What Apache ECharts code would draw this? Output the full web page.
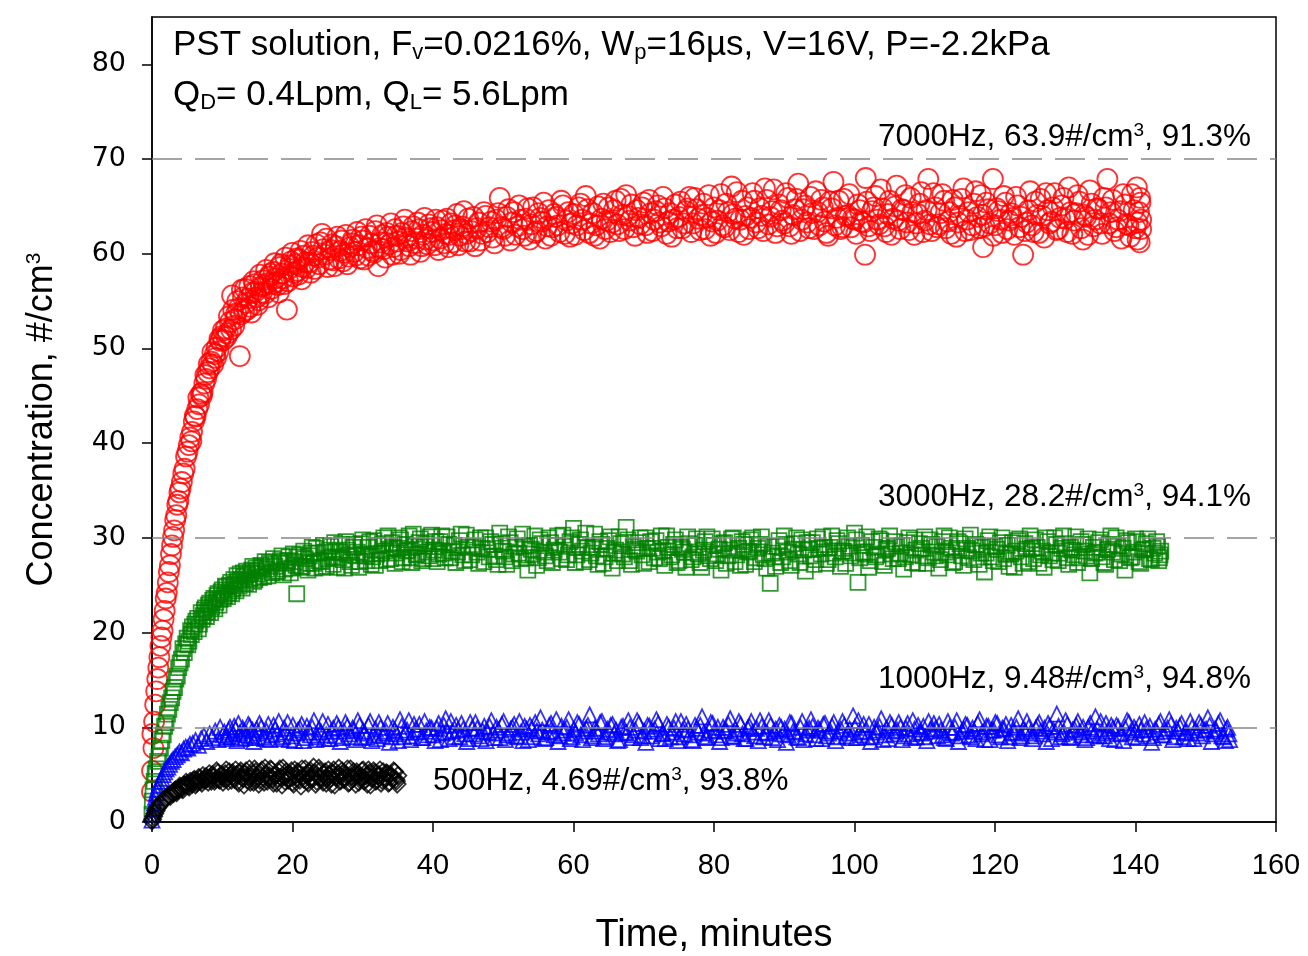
<!DOCTYPE html>
<html>
<head>
<meta charset="utf-8">
<script src="https://cdn.jsdelivr.net/npm/echarts@6/dist/echarts.min.js"></script>
<style>html,body{margin:0;padding:0;background:#fff}#chart{width:1308px;height:956px}</style>
</head>
<body>
<div id="chart"></div>
<script>
// ---- tick values ----
const xTicks = [0, 20, 40, 60, 80, 100, 120, 140, 160];
const yTicks = [0, 10, 20, 30, 40, 50, 60, 70, 80];
const refLines = [70, 30, 10];

// ---- series names / annotations ----
const seriesNames = ['7000Hz', '3000Hz', '1000Hz', '500Hz'];
const annotations = [
  '7000Hz, 63.9#/cm{sup|3}, 91.3%',
  '3000Hz, 28.2#/cm{sup|3}, 94.1%',
  '1000Hz, 9.48#/cm{sup|3}, 94.8%',
  '500Hz, 4.69#/cm{sup|3}, 93.8%'
];

// ---- data [time (min), concentration (#/cm3)] ----
const data7000 = [[0,3.2],[0,5.4],[0.05,9.3],[0.2,7.8],[0.3,10.6],[0.45,12.4],[0.6,13.8],[0.75,15.1],[0.9,16.3],[1.05,17.4],[1.2,18.6],[1.35,19.5],[1.5,20.2],[1.65,21.4],[1.8,22.3],[1.95,23.6],[2.1,24.2],[2.25,25.3],[2.4,26.4],[2.55,27.1],[2.7,28.3],[2.85,29.2],[3.0,30.1],[3.15,30.8],[3.3,31.9],[3.45,32.4],[3.6,33.5],[3.75,33.9],[3.9,34.8],[4.05,35.2],[4.25,35.9],[4.45,36.8],[4.65,37.3],[4.85,38.6],[5.05,39.1],[5.25,39.8],[5.45,40.6],[5.7,41.2],[5.95,42.3],[6.2,42.8],[6.45,43.6],[6.7,44.1],[6.95,45.2],[7.2,45.4],[7.45,46.3],[7.7,46.8],[7.95,47.5],[8.2,47.9],[8.45,48.6],[8.7,48.3],[8.95,49.4],[9.2,50.1],[9.45,49.7],[9.7,50.8],[9.95,51.3],[10.2,50.9],[10.5,52.1],[10.8,51.6],[11.1,52.8],[11.4,55.6],[11.7,52.4],[12.0,53.7],[12.3,54.2],[12.5,49.2],[12.8,56.2],[13.1,53.9],[13.4,54.8],[13.7,55.3],[14.0,54.4],[14.3,55.9],[14.6,56.8],[14.9,55.4],[15.2,55.1],[15.5,56.5],[15.8,57.2],[16.1,55.8],[16.4,56.9],[16.7,57.6],[17.0,56.3],[17.3,58.1],[17.6,57.4],[17.9,56.7],[18.2,58.6],[18.5,57.9],[18.8,56.8],[19.2,54.1],[19.5,58.4],[19.8,59.2],[20.1,57.6],[20.4,58.9],[20.7,58.2],[21.0,59.4],[21.3,57.3],[21.6,59.8],[22.0,58.5],[22.4,59.1],[22.8,60.2],[23.2,58.4],[23.6,59.6],[24.0,61.2],[24.2,62.1],[24.6,59.9],[25.0,58.6],[25.4,60.4],[25.8,59.3],[26.2,60.8],[26.6,59.5],[27.0,61.4],[27.4,60.1],[27.8,58.9],[28.2,60.7],[28.6,61.5],[29.0,59.8],[29.4,60.9],[29.8,61.8],[30.2,59.4],[30.6,60.6],[31.0,61.9],[31.4,60.3],[31.8,62.4],[32.2,58.7],[32.6,61.2],[33.0,60.5],[33.4,62.2],[33.8,61.0],[34.2,59.9],[34.6,62.6],[35.0,61.3],[35.4,60.4],[35.8,62.9],[36.2,61.7],[36.6,60.8],[37.0,62.4],[37.4,61.1],[37.8,63.3],[38.2,60.2],[38.6,62.0],[39.0,61.5],[39.4,63.1],[39.8,62.3],[40.2,60.9],[40.6,62.8],[41.0,61.6],[41.4,63.5],[41.8,62.1],[42.2,60.7],[42.6,63.2],[43.0,62.5],[43.4,64.2],[43.8,61.9],[44.2,62.9],[44.6,61.3],[45.0,63.7],[45.5,62.4],[46.0,60.8],[46.5,63.3],[47.0,62.1],[47.5,64.0],[48.0,62.8],[48.5,61.7],[49.0,63.6],[49.5,65.9],[50.0,62.6],[50.5,63.9],[51.0,61.4],[51.5,64.4],[52.0,62.9],[52.5,63.6],[53.0,61.9],[53.5,64.8],[54.0,63.1],[54.5,62.2],[55.0,64.3],[55.5,63.4],[56.0,61.6],[56.5,64.6],[57.0,62.8],[57.5,63.9],[58.0,62.3],[58.5,65.1],[59.0,63.5],[59.5,61.8],[60.0,64.2],[60.5,63.0],[61.0,65.3],[61.5,62.5],[62.0,64.7],[62.5,63.2],[63.0,61.9],[63.5,65.0],[64.0,63.7],[64.5,62.6],[65.0,64.9],[65.5,63.3],[66.0,65.6],[66.5,62.4],[67.0,64.1],[67.5,66.2],[68.0,63.5],[68.5,62.8],[69.0,64.6],[69.5,63.1],[70.0,65.4],[70.5,62.2],[71.0,64.3],[71.5,63.6],[72.0,65.1],[72.5,62.9],[73.0,64.8],[73.5,63.4],[74.0,61.8],[74.5,65.2],[75.0,63.9],[75.5,62.7],[76.0,64.5],[76.5,66.0],[77.0,63.2],[77.5,64.7],[78.0,62.5],[78.5,65.3],[79.0,63.8],[79.5,61.9],[80.0,64.9],[80.5,63.5],[81.0,66.3],[81.5,62.8],[82.0,64.4],[82.5,67.1],[83.0,63.7],[83.5,62.3],[84.0,65.6],[84.5,64.0],[85.0,62.6],[85.5,66.4],[86.0,63.3],[86.5,64.8],[87.0,62.4],[87.5,65.7],[88.0,63.9],[88.5,66.8],[89.0,62.9],[89.5,64.6],[90.0,63.2],[90.5,65.9],[91.0,62.1],[91.5,64.7],[92.0,67.4],[92.5,63.6],[93.0,65.1],[93.5,62.7],[94.0,64.3],[94.5,66.6],[95.0,63.0],[95.5,64.9],[96.0,62.2],[96.5,65.5],[97.0,67.6],[97.5,63.8],[98.0,62.6],[98.5,65.8],[99.0,64.1],[99.5,62.8],[100.0,63.6],[100.5,65.2],[101.0,63.4],[101.5,59.9],[101.6,68.0],[102.0,62.9],[102.5,64.5],[103.0,66.1],[103.5,63.1],[104.0,64.8],[104.5,62.3],[105.0,65.6],[105.5,63.7],[106.0,67.2],[106.5,62.6],[107.0,64.6],[107.5,63.3],[108.0,65.9],[108.5,62.0],[109.0,64.2],[109.5,66.5],[110.0,63.5],[110.5,67.9],[111.0,62.4],[111.5,64.9],[112.0,63.1],[112.5,66.3],[113.0,62.7],[113.5,64.4],[114.0,65.7],[114.5,61.8],[115.0,64.0],[115.5,66.9],[116.0,63.6],[116.5,62.5],[117.0,65.3],[117.5,63.9],[118.0,66.2],[118.3,60.7],[118.5,62.9],[119.0,64.7],[119.7,67.9],[120.0,63.0],[120.5,64.5],[121.0,62.2],[121.5,65.4],[122.0,63.5],[122.5,63.8],[123.0,66.0],[123.5,62.8],[124.0,59.9],[124.5,63.3],[125.0,66.6],[125.5,62.3],[126.0,64.1],[126.5,65.8],[127.0,61.7],[127.5,64.6],[128.0,63.4],[128.5,66.4],[129.0,62.6],[129.5,65.1],[130.0,63.7],[130.5,67.0],[131.0,62.1],[131.5,64.3],[132.0,65.5],[132.5,61.5],[133.0,63.9],[133.5,66.7],[134.0,62.9],[134.5,64.8],[135.0,63.2],[135.5,65.9],[136.0,67.9],[136.5,64.4],[137.0,62.4],[137.5,63.6],[138.0,61.6],[138.5,65.2],[139.0,63.0],[139.5,66.3],[140.0,62.7],[140.2,67.0],[140.3,61.5],[140.5,64.4],[140.6,61.2],[140.7,65.4],[140.8,63.6],[140.8,62.6]];

const more7000 = [[5.6,40.2],[6.1,42.9],[6.6,44.8],[7.1,45.0],[7.6,47.2],[8.1,48.4],[8.6,49.6],[9.1,49.0],[9.6,51.0],[10.1,51.9],[10.6,51.2],[10.95,53.4],[11.25,52.0],[11.55,54.1],[11.85,53.1],[12.15,55.0],[12.65,53.6],[12.95,55.4],[13.25,56.3],[13.55,54.1],[13.85,56.6],[14.15,53.8],[14.45,57.1],[14.75,56.0],[15.05,54.6],[15.35,57.8],[15.65,55.9],[15.95,56.7],[16.25,58.3],[16.55,55.4],[16.85,57.9],[17.15,56.8],[17.45,59.0],[17.75,57.0],[18.05,55.9],[18.35,58.9],[18.65,57.4],[19.0,59.6],[19.35,57.1],[19.65,58.8],[19.95,60.1],[20.25,58.0],[20.55,59.5],[20.85,57.8],[21.15,60.3],[21.45,58.6],[21.8,59.1],[22.2,60.9],[22.6,58.0],[23.0,59.8],[23.4,61.0],[23.8,58.9],[24.4,60.5],[24.8,61.6],[25.2,59.4],[25.6,61.0],[26.0,58.7],[26.4,61.8],[26.8,60.3],[27.2,59.2],[27.6,62.0],[28.0,59.7],[28.4,61.1],[28.8,60.2],[29.2,62.3],[29.6,59.5],[30.0,61.4],[30.4,62.6],[30.8,59.8],[31.2,61.1],[31.6,60.1],[32.0,63.0],[32.4,60.6],[32.8,62.0],[33.2,59.6],[33.6,61.8],[34.0,63.2],[34.4,60.7],[34.8,61.9],[35.2,60.0],[35.6,62.2],[36.0,63.6],[36.4,61.3],[36.8,59.9],[37.2,62.9],[37.6,61.6],[38.0,62.6],[38.4,60.8],[38.8,63.8],[39.2,61.0],[39.6,62.7],[40.0,61.4],[40.4,63.6],[40.8,60.4],[41.2,62.5],[41.6,61.1],[42.0,63.7],[42.4,62.0],[42.8,61.2],[43.2,63.0],[43.6,60.9],[44.0,62.6],[44.4,64.5],[44.8,62.1],[45.25,61.3],[45.75,63.9],[46.25,62.7],[46.75,61.4],[47.25,64.4],[47.75,62.3],[48.25,63.4],[48.75,61.1],[49.25,64.3],[49.75,62.8],[50.25,61.9],[50.75,64.7],[51.25,63.3],[51.75,62.0],[52.25,65.1],[52.75,62.6],[53.25,63.7],[53.75,61.5],[54.25,64.9],[54.75,62.4],[55.25,63.8],[55.75,65.4],[56.25,62.9],[56.75,61.9],[57.25,64.2],[57.75,63.0],[58.25,65.6],[58.75,62.1],[59.25,64.4],[59.75,63.2],[60.25,62.0],[60.75,64.9],[61.25,63.6],[61.75,66.1],[62.25,62.2],[62.75,64.3],[63.25,63.0],[63.75,61.6],[64.25,65.3],[64.75,63.5],[65.25,62.3],[65.75,64.6],[66.25,63.1],[66.75,65.8],[67.25,62.6],[67.75,64.0],[68.25,65.2],[68.75,61.9],[69.25,63.8],[69.75,64.9],[70.25,63.0],[70.75,65.7],[71.25,62.4],[71.75,64.5],[72.25,63.3],[72.75,66.0],[73.25,62.1],[73.75,64.3],[74.25,63.6],[74.75,62.7],[75.25,65.5],[75.75,63.2],[76.25,64.8],[76.75,62.3],[77.25,65.9],[77.75,63.7],[78.25,64.1],[78.75,62.6],[79.25,66.2],[79.75,63.4],[80.25,62.2],[80.75,64.6],[81.25,63.0],[81.75,65.3],[82.25,62.5],[82.75,64.2],[83.25,66.5],[83.75,63.6],[84.25,62.0],[84.75,64.9],[85.25,63.8],[85.75,65.6],[86.25,62.7],[86.75,64.0],[87.25,66.9],[87.75,63.1],[88.25,64.5],[88.75,62.2],[89.25,65.2],[89.75,63.5],[90.25,66.4],[90.75,62.9],[91.25,64.1],[91.75,65.8],[92.25,62.4],[92.75,64.7],[93.25,63.3],[93.75,66.0],[94.25,62.6],[94.75,64.4],[95.25,65.7],[95.75,63.4],[96.25,61.9],[96.75,64.8],[97.25,63.0],[97.75,65.6],[98.25,62.8],[98.75,64.0],[99.25,66.3],[99.75,63.7],[100.25,62.1],[100.75,64.6],[101.25,63.3],[101.75,65.5],[102.25,62.4],[102.75,64.9],[103.25,63.6],[103.75,66.8],[104.25,62.9],[104.75,64.2],[105.25,62.0],[105.75,65.0],[106.25,63.5],[106.75,64.7],[107.25,66.2],[107.75,62.5],[108.25,64.4],[108.75,63.2],[109.25,65.3],[109.75,62.3],[110.25,64.6],[110.75,63.1],[111.25,66.4],[111.75,62.8],[112.25,64.3],[112.75,65.6],[113.25,63.4],[113.75,62.1],[114.25,64.9],[114.75,63.3],[115.25,65.8],[115.75,62.4],[116.25,64.4],[116.75,63.0],[117.25,66.6],[117.75,62.7],[118.25,64.1],[118.75,65.4],[119.25,63.2],[119.75,61.9],[120.25,64.8],[120.75,63.6],[121.25,66.1],[121.75,62.6],[122.25,64.3],[122.75,62.0],[123.25,65.1],[123.75,63.9],[124.25,62.4],[124.75,64.6],[125.25,63.0],[125.75,65.5],[126.25,62.2],[126.75,64.0],[127.25,66.4],[127.75,63.2],[128.25,64.9],[128.75,62.5],[129.25,63.8],[129.75,65.9],[130.25,62.3],[130.75,64.4],[131.25,63.5],[131.75,66.2],[132.25,62.7],[132.75,64.1],[133.25,62.0],[133.75,65.3],[134.25,63.6],[134.75,64.7],[135.25,62.1],[135.75,64.9],[136.25,63.2],[136.75,65.7],[137.25,62.8],[137.75,64.5],[138.25,66.3],[138.75,63.1],[139.25,61.8],[139.75,64.6],[140.25,63.3],[140.65,65.9]];

const data3000 = [[0,0.8],[0.05,2.2],[0.15,3.4],[0.3,4.3],[0.45,5.1],[0.6,5.6],[0.8,6.4],[1.0,6.9],[1.2,7.8],[1.4,8.6],[1.6,9.2],[1.8,10.1],[2.0,10.5],[2.2,11.4],[2.4,11.9],[2.6,12.6],[2.8,13.1],[3.0,13.8],[3.2,14.2],[3.4,15.1],[3.6,15.4],[3.8,16.3],[4.0,16.8],[4.2,17.2],[4.4,18.3],[4.6,17.9],[4.8,18.8],[5.0,19.4],[5.25,19.1],[5.5,20.2],[5.75,20.6],[6.0,20.1],[6.25,21.2],[6.5,21.5],[6.75,20.9],[7.0,22.1],[7.3,21.8],[7.6,22.6],[7.9,22.2],[8.2,23.1],[8.5,22.7],[8.8,23.6],[9.1,23.2],[9.4,24.1],[9.7,23.5],[10.0,24.5],[10.3,23.9],[10.6,24.8],[10.9,24.2],[11.2,25.3],[11.5,24.6],[11.8,25.1],[12.1,26.0],[12.4,24.9],[12.7,25.6],[13.0,26.3],[13.3,25.2],[13.6,26.1],[13.9,25.7],[14.2,26.6],[14.5,25.4],[14.8,26.8],[15.1,26.2],[15.5,27.1],[15.9,25.9],[16.3,26.7],[16.7,27.4],[17.1,26.3],[17.5,27.0],[17.9,26.5],[18.3,27.6],[18.7,26.1],[19.1,27.3],[19.5,28.0],[19.9,26.8],[20.3,27.5],[20.6,24.1],[21.0,28.2],[21.4,27.0],[21.8,27.8],[22.2,26.6],[22.6,28.4],[23.0,27.3],[23.4,28.9],[23.8,27.6],[24.2,26.9],[24.6,28.5],[25.0,27.8],[25.4,29.1],[25.8,27.2],[26.2,28.6],[26.6,27.9],[27.0,29.3],[27.4,26.8],[27.8,28.7],[28.2,27.5],[28.6,29.0],[29.0,28.1],[29.4,26.9],[29.8,29.4],[30.2,28.3],[30.6,27.6],[31.0,29.6],[31.4,28.0],[31.8,27.1],[32.2,29.2],[32.6,28.4],[33.0,30.0],[33.4,27.7],[33.8,28.8],[34.2,29.5],[34.6,27.3],[35.0,28.9],[35.4,29.8],[35.8,27.9],[36.2,28.6],[36.6,30.2],[37.0,27.4],[37.4,29.1],[37.8,28.3],[38.2,29.9],[38.6,27.8],[39.0,29.4],[39.4,28.1],[39.8,30.3],[40.2,28.7],[40.6,27.5],[41.0,29.6],[41.5,28.4],[42.0,30.1],[42.5,27.9],[43.0,29.2],[43.5,28.5],[44.0,30.4],[44.5,27.6],[45.0,29.0],[45.5,28.2],[46.0,29.8],[46.5,27.3],[47.0,28.9],[47.5,30.0],[48.0,28.0],[48.5,29.3],[49.0,27.7],[49.5,30.5],[50.0,28.6],[50.5,27.2],[51.0,29.5],[51.5,28.3],[52.0,29.9],[52.5,27.8],[53.0,29.1],[53.5,26.6],[54.0,28.8],[54.5,30.2],[55.0,27.9],[55.5,29.4],[56.0,28.1],[56.5,30.0],[57.0,27.4],[57.5,29.2],[58.0,28.5],[58.5,30.3],[59.0,27.7],[59.5,29.6],[60.0,31.0],[60.5,28.2],[61.0,29.8],[61.5,27.5],[62.0,29.0],[62.5,28.4],[63.0,30.4],[63.5,27.2],[64.0,29.3],[64.5,28.0],[65.0,29.7],[65.5,26.8],[66.0,28.7],[66.5,30.1],[67.0,28.3],[67.5,31.1],[68.0,27.6],[68.5,29.1],[69.0,28.6],[69.5,30.0],[70.0,27.3],[70.5,28.9],[71.0,29.6],[71.5,27.9],[72.0,28.5],[72.5,30.2],[73.0,27.1],[73.5,29.0],[74.0,28.2],[74.5,29.8],[75.0,27.6],[75.5,28.8],[76.0,26.9],[76.5,29.4],[77.0,28.0],[77.5,29.9],[78.0,27.4],[78.5,28.7],[79.0,30.1],[79.5,27.8],[80.0,29.2],[80.5,28.3],[81.0,26.6],[81.5,29.5],[82.0,28.1],[82.5,29.9],[83.0,27.5],[83.5,28.9],[84.0,29.6],[84.5,27.2],[85.0,28.6],[85.5,30.0],[86.0,27.9],[86.5,29.3],[87.0,28.2],[87.5,26.8],[88.0,25.2],[88.5,28.0],[89.0,29.1],[89.5,27.4],[90.0,30.2],[90.5,28.5],[91.0,27.1],[91.5,29.4],[92.0,28.3],[92.5,29.8],[93.0,26.5],[93.5,28.8],[94.0,29.5],[94.5,27.7],[95.0,28.9],[95.5,30.1],[96.0,27.3],[96.5,29.0],[97.0,28.4],[97.5,29.7],[98.0,27.0],[98.5,28.6],[99.0,30.0],[99.5,28.1],[100.0,30.5],[100.5,25.3],[101.0,29.2],[101.5,28.3],[102.0,26.9],[102.5,29.6],[103.0,28.0],[103.5,29.9],[104.0,27.5],[104.5,28.8],[105.0,30.2],[105.5,27.8],[106.0,29.1],[106.5,28.4],[107.0,26.7],[107.5,29.5],[108.0,28.2],[108.5,29.8],[109.0,27.3],[109.5,28.9],[110.0,30.1],[110.5,27.9],[111.0,29.3],[111.5,28.1],[112.0,26.8],[112.5,29.6],[113.0,28.5],[113.5,30.0],[114.0,27.4],[114.5,28.7],[115.0,29.4],[115.5,27.1],[116.0,28.9],[116.5,30.3],[117.0,27.7],[117.5,29.2],[118.0,28.4],[118.5,26.4],[119.0,29.7],[119.5,28.0],[120.0,29.1],[120.5,27.5],[121.0,30.0],[121.5,28.3],[122.0,27.0],[122.5,29.5],[123.0,28.6],[123.5,29.9],[124.0,27.3],[124.5,28.8],[125.0,30.2],[125.5,27.8],[126.0,29.0],[126.5,28.2],[127.0,26.9],[127.5,29.6],[128.0,28.4],[128.5,30.0],[129.0,27.6],[129.5,28.9],[130.0,29.4],[130.5,27.2],[131.0,28.7],[131.5,30.1],[132.0,27.9],[132.5,29.3],[133.0,28.1],[133.5,26.3],[134.0,29.0],[134.5,28.5],[135.0,29.8],[135.5,27.4],[136.0,28.8],[136.5,30.2],[137.0,27.7],[137.5,29.1],[138.0,28.3],[138.5,26.6],[139.0,29.5],[139.5,28.0],[140.0,29.9],[140.5,27.5],[141.0,28.7],[141.5,29.4],[142.0,27.8],[142.5,28.9],[143.0,29.6],[143.3,27.6],[143.5,28.2],[143.6,28.6]];

const more3000 = [[5.1,18.7],[5.6,19.8],[6.1,20.9],[6.6,20.4],[7.15,21.4],[7.45,22.4],[7.75,21.7],[8.05,22.9],[8.35,22.1],[8.65,23.4],[8.95,22.5],[9.25,23.9],[9.55,22.9],[9.85,24.3],[10.15,23.6],[10.45,24.9],[10.75,23.8],[11.05,25.0],[11.35,24.1],[11.65,25.6],[11.95,24.4],[12.25,25.4],[12.55,26.2],[12.85,24.7],[13.15,25.9],[13.45,26.5],[13.75,25.1],[14.05,26.3],[14.35,27.0],[14.65,25.6],[14.95,26.5],[15.3,25.8],[15.7,26.9],[16.1,27.5],[16.5,26.0],[16.9,27.2],[17.3,27.8],[17.7,26.4],[18.1,27.4],[18.5,28.1],[18.9,26.7],[19.3,27.6],[19.7,26.3],[20.1,28.3],[20.5,27.1],[20.85,28.0],[21.2,26.9],[21.6,28.6],[22.0,27.3],[22.4,28.1],[22.8,29.0],[23.2,26.8],[23.6,28.4],[24.0,27.5],[24.4,29.2],[24.8,27.0],[25.2,28.7],[25.6,28.0],[26.0,29.5],[26.4,26.9],[26.8,28.5],[27.2,27.7],[27.6,29.6],[28.0,28.2],[28.4,27.1],[28.8,29.3],[29.2,28.5],[29.6,27.5],[30.0,29.8],[30.4,28.1],[30.8,29.0],[31.2,27.2],[31.6,29.7],[32.0,28.3],[32.4,27.6],[32.8,29.4],[33.2,28.6],[33.6,30.2],[34.0,27.8],[34.4,29.0],[34.8,28.4],[35.2,30.0],[35.6,27.5],[36.0,29.3],[36.4,28.7],[36.8,27.9],[37.2,30.4],[37.6,28.2],[38.0,29.5],[38.4,27.6],[38.8,29.1],[39.2,28.5],[39.6,30.1],[40.0,27.8],[40.4,29.6],[40.8,28.3],[41.25,30.2],[41.75,27.9],[42.25,29.3],[42.75,28.6],[43.25,27.4],[43.75,29.7],[44.25,28.2],[44.75,30.3],[45.25,27.7],[45.75,29.1],[46.25,28.5],[46.75,30.0],[47.25,27.5],[47.75,28.8],[48.25,29.6],[48.75,28.1],[49.25,27.2],[49.75,29.4],[50.25,28.0],[50.75,30.1],[51.25,27.6],[51.75,29.0],[52.25,28.4],[52.75,30.4],[53.25,27.9],[53.75,29.2],[54.25,28.3],[54.75,27.1],[55.25,29.8],[55.75,28.5],[56.25,27.6],[56.75,29.5],[57.25,28.7],[57.75,30.2],[58.25,27.8],[58.75,29.1],[59.25,28.2],[59.75,30.0],[60.25,27.4],[60.75,29.3],[61.25,28.6],[61.75,30.5],[62.25,27.7],[62.75,29.0],[63.25,28.1],[63.75,29.6],[64.25,27.3],[64.75,28.9],[65.25,30.1],[65.75,28.4],[66.25,27.6],[66.75,29.4],[67.25,28.0],[67.75,29.8],[68.25,27.2],[68.75,28.8],[69.25,29.5],[69.75,28.2],[70.25,30.0],[70.75,27.5],[71.25,28.9],[71.75,29.7],[72.25,27.8],[72.75,28.6],[73.25,30.2],[73.75,28.0],[74.25,29.3],[74.75,27.4],[75.25,29.0],[75.75,28.5],[76.25,30.1],[76.75,27.7],[77.25,29.2],[77.75,28.3],[78.25,26.9],[78.75,29.6],[79.25,28.1],[79.75,29.9],[80.25,27.6],[80.75,28.8],[81.25,29.4],[81.75,27.3],[82.25,28.7],[82.75,30.0],[83.25,28.2],[83.75,27.1],[84.25,29.3],[84.75,28.5],[85.25,29.8],[85.75,27.5],[86.25,28.9],[86.75,30.1],[87.25,27.8],[87.75,29.1],[88.25,28.4],[88.75,27.0],[89.25,29.7],[89.75,28.0],[90.25,29.3],[90.75,27.6],[91.25,28.8],[91.75,30.0],[92.25,27.4],[92.75,28.7],[93.25,29.5],[93.75,28.1],[94.25,27.2],[94.75,29.9],[95.25,28.3],[95.75,29.0],[96.25,27.7],[96.75,30.2],[97.25,28.0],[97.75,29.4],[98.25,28.6],[98.75,27.3],[99.25,29.1],[99.75,28.4],[100.25,29.8],[100.75,27.9],[101.25,28.5],[101.75,30.1],[102.25,27.6],[102.75,29.0],[103.25,28.2],[103.75,29.7],[104.25,27.1],[104.75,28.9],[105.25,28.3],[105.75,29.6],[106.25,27.8],[106.75,29.2],[107.25,28.0],[107.75,30.0],[108.25,27.4],[108.75,28.7],[109.25,29.4],[109.75,28.1],[110.25,27.3],[110.75,29.8],[111.25,28.5],[111.75,29.1],[112.25,27.7],[112.75,30.2],[113.25,28.2],[113.75,28.9],[114.25,27.5],[114.75,29.6],[115.25,28.1],[115.75,29.9],[116.25,27.9],[116.75,28.6],[117.25,29.3],[117.75,27.2],[118.25,29.0],[118.75,28.4],[119.25,30.1],[119.75,27.6],[120.25,28.8],[120.75,29.5],[121.25,27.8],[121.75,29.2],[122.25,28.3],[122.75,26.9],[123.25,29.7],[123.75,28.0],[124.25,29.4],[124.75,27.5],[125.25,28.9],[125.75,29.8],[126.25,27.3],[126.75,28.6],[127.25,30.0],[127.75,28.1],[128.25,27.7],[128.75,29.3],[129.25,28.4],[129.75,30.2],[130.25,27.9],[130.75,29.0],[131.25,28.2],[131.75,27.4],[132.25,29.6],[132.75,28.6],[133.25,29.9],[133.75,27.8],[134.25,28.4],[134.75,29.5],[135.25,28.0],[135.75,27.2],[136.25,29.3],[136.75,28.5],[137.25,30.0],[137.75,27.6],[138.25,28.9],[138.75,29.7],[139.25,27.9],[139.75,28.5],[140.25,29.6],[140.75,27.3],[141.25,28.8],[141.75,29.9],[142.25,27.7],[142.75,28.4],[143.15,29.1],[143.4,27.9]];

const data1000 = [[0,0.2],[0.1,0.8],[0.2,1.4],[0.35,2.0],[0.5,2.6],[0.65,3.1],[0.8,3.5],[1.0,3.9],[1.2,4.3],[1.4,4.6],[1.6,5.0],[1.8,5.3],[2.0,5.6],[2.25,5.8],[2.5,6.1],[2.75,6.4],[3.0,6.6],[3.3,6.9],[3.6,7.1],[3.9,7.4],[4.2,7.3],[4.5,7.7],[4.8,7.9],[5.1,7.8],[5.4,8.2],[5.8,8.3],[6.2,8.6],[6.6,8.1],[7.0,8.8],[7.4,9.1],[7.8,8.5],[8.2,9.3],[8.6,8.9],[9.0,9.6],[9.4,8.7],[9.7,10.0],[10.1,9.2],[10.5,8.8],[10.9,9.7],[11.3,9.0],[11.7,10.1],[12.1,8.6],[12.5,9.4],[12.9,9.9],[13.3,8.9],[13.7,10.3],[14.1,9.1],[14.5,8.5],[14.9,9.8],[15.3,10.4],[15.8,9.0],[16.3,9.6],[16.8,8.7],[17.3,10.2],[17.8,9.3],[18.3,8.8],[18.8,9.9],[19.3,10.5],[19.8,9.1],[20.3,8.6],[20.8,9.7],[21.3,10.3],[21.8,8.9],[22.3,9.5],[22.8,10.0],[23.3,8.7],[23.8,9.8],[24.3,10.6],[24.8,9.2],[25.3,8.8],[25.8,9.9],[26.3,10.4],[26.8,8.5],[27.3,9.6],[27.8,10.1],[28.3,9.0],[28.8,9.7],[29.3,10.7],[29.8,8.9],[30.3,9.4],[30.8,10.2],[31.3,8.6],[31.8,9.8],[32.3,10.5],[32.8,9.1],[33.3,9.6],[33.8,8.4],[34.3,10.0],[34.8,9.3],[35.3,10.8],[35.8,9.0],[36.3,9.7],[36.8,8.7],[37.3,10.3],[37.8,9.5],[38.3,8.9],[38.8,10.6],[39.3,9.2],[39.8,9.9],[40.3,8.6],[40.8,10.4],[41.3,9.4],[41.8,10.9],[42.3,8.8],[42.8,9.6],[43.3,10.2],[43.8,9.0],[44.3,9.8],[44.8,8.5],[45.3,10.5],[45.8,9.3],[46.3,9.9],[46.8,8.8],[47.3,10.1],[47.8,9.5],[48.3,10.7],[48.8,8.9],[49.3,9.7],[49.8,10.3],[50.3,8.7],[50.8,9.4],[51.3,10.0],[51.8,9.1],[52.3,10.6],[52.8,8.6],[53.3,9.8],[53.8,10.2],[54.3,9.0],[54.8,9.6],[55.3,11.0],[55.8,8.8],[56.3,9.5],[56.8,10.4],[57.3,9.2],[57.8,8.5],[58.3,10.1],[58.8,9.7],[59.3,10.8],[59.8,9.0],[60.3,9.4],[60.8,10.3],[61.3,8.7],[61.8,9.9],[62.3,11.3],[62.8,9.1],[63.3,9.6],[63.8,10.5],[64.3,8.8],[64.8,9.8],[65.3,10.2],[65.8,9.3],[66.3,8.6],[66.8,10.0],[67.3,9.5],[67.8,10.7],[68.3,8.9],[68.8,9.7],[69.3,10.4],[69.8,9.1],[70.3,8.4],[70.8,10.1],[71.3,9.6],[71.8,10.8],[72.3,8.8],[72.8,9.4],[73.3,10.3],[73.8,9.0],[74.3,9.9],[74.8,8.6],[75.3,10.6],[75.8,9.3],[76.3,9.8],[76.8,8.7],[77.3,10.2],[77.8,9.5],[78.3,11.1],[78.8,8.9],[79.3,9.7],[79.8,10.4],[80.3,9.2],[80.8,8.5],[81.3,10.0],[81.8,9.6],[82.3,10.9],[82.8,9.0],[83.3,9.4],[83.8,10.3],[84.3,8.8],[84.8,9.9],[85.3,10.6],[85.8,9.1],[86.3,8.6],[86.8,10.1],[87.3,9.5],[87.8,10.7],[88.3,8.9],[88.8,9.8],[89.3,10.2],[89.8,9.3],[90.3,8.4],[90.8,10.5],[91.3,9.6],[91.8,9.0],[92.3,10.0],[92.8,8.7],[93.3,9.7],[93.8,10.8],[94.3,9.2],[94.8,9.9],[95.3,8.8],[95.8,10.4],[96.3,9.4],[96.8,10.1],[97.3,8.6],[97.8,9.6],[98.3,10.6],[98.8,9.1],[99.3,9.8],[99.8,11.2],[100.3,8.9],[100.8,9.5],[101.3,10.3],[101.8,9.0],[102.3,8.5],[102.8,10.0],[103.3,9.7],[103.8,10.9],[104.3,9.2],[104.8,8.8],[105.3,10.2],[105.8,9.6],[106.3,10.5],[106.8,8.7],[107.3,9.9],[107.8,9.3],[108.3,10.7],[108.8,9.0],[109.3,9.5],[109.8,10.1],[110.3,8.6],[110.8,9.8],[111.3,10.4],[111.8,9.1],[112.3,9.7],[112.8,8.9],[113.3,10.6],[113.8,9.4],[114.3,10.0],[114.8,8.5],[115.3,9.6],[115.8,10.3],[116.3,9.2],[116.8,9.9],[117.3,8.8],[117.8,10.8],[118.3,9.5],[118.8,10.1],[119.3,8.7],[119.8,9.7],[120.3,10.4],[120.8,9.0],[121.3,9.8],[121.8,8.6],[122.3,10.2],[122.8,9.4],[123.3,10.9],[123.8,9.1],[124.3,9.6],[124.8,10.0],[125.3,8.8],[125.8,9.9],[126.3,10.5],[126.8,9.3],[127.3,8.5],[127.8,10.1],[128.3,9.7],[128.8,11.4],[129.3,9.0],[129.8,9.5],[130.3,10.3],[130.8,8.9],[131.3,9.8],[131.8,10.6],[132.3,9.2],[132.8,8.7],[133.3,10.0],[133.8,9.6],[134.3,11.1],[134.8,9.1],[135.3,9.4],[135.8,10.4],[136.3,8.8],[136.8,9.9],[137.3,10.2],[137.8,9.3],[138.3,8.6],[138.8,10.7],[139.3,9.5],[139.8,10.0],[140.3,8.9],[140.8,9.7],[141.3,10.5],[141.8,9.1],[142.3,8.4],[142.8,9.8],[143.3,10.3],[143.8,9.2],[144.3,9.6],[144.8,10.8],[145.3,8.7],[145.8,9.9],[146.3,10.1],[146.8,9.0],[147.3,9.5],[147.8,10.6],[148.3,8.8],[148.8,9.4],[149.3,10.2],[149.8,9.7],[150.3,11.0],[150.8,8.5],[151.3,9.8],[151.8,10.4],[152.3,9.1],[152.8,8.6],[153.1,10.0],[153.3,9.3],[153.4,8.7]];

const more1000 = [[10.3,9.5],[10.7,9.0],[11.1,10.0],[11.5,9.3],[11.9,9.8],[12.3,10.4],[12.7,8.8],[13.1,9.6],[13.5,9.2],[13.9,10.1],[14.3,9.7],[14.7,8.9],[15.05,9.4],[15.55,10.0],[16.05,8.8],[16.55,10.3],[17.05,9.2],[17.55,9.8],[18.05,10.6],[18.55,9.0],[19.05,9.5],[19.55,8.7],[20.05,10.2],[20.55,9.4],[21.05,9.9],[21.55,8.6],[22.05,10.1],[22.55,9.2],[23.05,10.7],[23.55,9.0],[24.05,9.5],[24.55,8.8],[25.05,10.3],[25.55,9.6],[26.05,9.1],[26.55,10.0],[27.05,8.9],[27.55,10.5],[28.05,9.3],[28.55,9.9],[29.05,8.7],[29.55,10.2],[30.05,9.6],[30.55,9.0],[31.05,10.6],[31.55,9.2],[32.05,8.8],[32.55,10.0],[33.05,9.4],[33.55,10.4],[34.05,9.0],[34.55,9.7],[35.05,8.6],[35.55,10.1],[36.05,9.5],[36.55,10.7],[37.05,9.1],[37.55,9.8],[38.05,10.3],[38.55,8.9],[39.05,9.6],[39.55,10.0],[40.05,9.2],[40.55,9.9],[41.05,8.7],[41.55,10.2],[42.05,9.5],[42.55,10.6],[43.05,9.0],[43.55,9.7],[44.05,10.4],[44.55,9.3],[45.05,8.8],[45.55,9.9],[46.05,10.5],[46.55,9.1],[47.05,9.6],[47.55,8.6],[48.05,10.1],[48.55,9.4],[49.05,10.0],[49.55,8.9],[50.05,10.6],[50.55,9.2],[51.05,9.8],[51.55,10.3],[52.05,9.0],[52.55,9.5],[53.05,10.1],[53.55,8.7],[54.05,9.9],[54.55,10.5],[55.05,9.3],[55.55,9.7],[56.05,8.9],[56.55,10.2],[57.05,9.6],[57.55,10.8],[58.05,9.1],[58.55,9.4],[59.05,10.0],[59.55,8.8],[60.05,9.8],[60.55,10.5],[61.05,9.2],[61.55,9.6],[62.05,10.2],[62.55,8.9],[63.05,9.9],[63.55,9.3],[64.05,10.6],[64.55,9.0],[65.05,9.5],[65.55,10.3],[66.05,9.7],[66.55,8.7],[67.05,10.1],[67.55,9.4],[68.05,10.0],[68.55,9.2],[69.05,10.7],[69.55,8.9],[70.05,9.6],[70.55,10.2],[71.05,9.1],[71.55,9.8],[72.05,10.4],[72.55,9.3],[73.05,8.8],[73.55,10.0],[74.05,9.5],[74.55,10.6],[75.05,9.0],[75.55,9.7],[76.05,10.3],[76.55,9.2],[77.05,8.6],[77.55,9.9],[78.05,10.2],[78.55,9.4],[79.05,9.0],[79.55,10.5],[80.05,9.6],[80.55,10.0],[81.05,8.9],[81.55,9.7],[82.05,10.3],[82.55,9.1],[83.05,9.8],[83.55,10.6],[84.05,9.3],[84.55,8.8],[85.05,10.1],[85.55,9.5],[86.05,9.9],[86.55,10.7],[87.05,9.0],[87.55,9.4],[88.05,10.2],[88.55,9.6],[89.05,8.7],[89.55,10.0],[90.05,9.8],[90.55,9.2],[91.05,10.4],[91.55,9.5],[92.05,8.9],[92.55,10.6],[93.05,9.3],[93.55,9.9],[94.05,10.1],[94.55,8.8],[95.05,9.7],[95.55,10.3],[96.05,9.1],[96.55,9.6],[97.05,10.5],[97.55,9.0],[98.05,9.8],[98.55,10.2],[99.05,9.4],[99.55,8.9],[100.05,10.0],[100.55,10.7],[101.05,9.2],[101.55,9.6],[102.05,10.3],[102.55,9.0],[103.05,9.5],[103.55,10.1],[104.05,8.7],[104.55,9.9],[105.05,10.5],[105.55,9.3],[106.05,9.7],[106.55,10.0],[107.05,9.1],[107.55,10.4],[108.05,8.9],[108.55,9.8],[109.05,10.2],[109.55,9.4],[110.05,9.0],[110.55,10.6],[111.05,9.6],[111.55,9.9],[112.05,10.3],[112.55,9.2],[113.05,8.8],[113.55,10.0],[114.05,9.5],[114.55,10.7],[115.05,9.1],[115.55,9.8],[116.05,10.2],[116.55,9.0],[117.05,9.6],[117.55,10.4],[118.05,9.3],[118.55,8.7],[119.05,10.1],[119.55,9.7],[120.05,10.5],[120.55,9.2],[121.05,9.9],[121.55,10.3],[122.05,9.0],[122.55,9.5],[123.05,10.0],[123.55,8.9],[124.05,9.8],[124.55,10.6],[125.05,9.4],[125.55,9.1],[126.05,10.2],[126.55,9.6],[127.05,9.9],[127.55,10.4],[128.05,8.8],[128.55,9.5],[129.05,10.1],[129.55,9.3],[130.05,10.7],[130.55,9.0],[131.05,9.7],[131.55,10.2],[132.05,9.5],[132.55,10.0],[133.05,8.9],[133.55,10.4],[134.05,9.2],[134.55,9.8],[135.05,10.6],[135.55,9.1],[136.05,9.6],[136.55,10.2],[137.05,8.7],[137.55,10.0],[138.05,9.4],[138.55,9.9],[139.05,10.5],[139.55,9.0],[140.05,9.7],[140.55,10.3],[141.05,9.3],[141.55,9.8],[142.05,10.1],[142.55,8.9],[143.05,9.5],[143.55,10.6],[144.05,9.2],[144.55,9.9],[145.05,10.3],[145.55,9.0],[146.05,9.6],[146.55,10.4],[147.05,9.4],[147.55,8.8],[148.05,10.0],[148.55,9.7],[149.05,10.5],[149.55,9.1],[150.05,9.8],[150.55,10.2],[151.05,9.3],[151.55,9.6],[152.05,10.7],[152.55,9.0],[152.95,9.8]];

const data500 = [[0,0.1],[0.1,0.3],[0.25,0.6],[0.4,0.9],[0.6,1.2],[0.8,1.5],[1.0,1.7],[1.25,2.0],[1.5,2.1],[1.75,2.4],[2.0,2.5],[2.3,2.8],[2.6,2.7],[2.9,3.1],[3.2,3.3],[3.5,3.1],[3.8,3.5],[4.1,3.7],[4.4,3.4],[4.7,3.9],[5.0,4.0],[5.3,3.7],[5.6,4.2],[5.9,4.4],[6.2,3.9],[6.5,4.3],[6.8,4.6],[7.1,4.1],[7.4,4.5],[7.7,4.8],[8.0,4.2],[8.3,4.6],[8.6,5.0],[8.9,4.3],[9.2,5.4],[9.5,4.5],[9.8,4.9],[10.1,4.2],[10.4,5.1],[10.7,4.6],[11.0,5.3],[11.3,4.4],[11.6,4.9],[11.9,5.5],[12.2,4.3],[12.5,5.2],[12.8,4.7],[13.1,3.9],[13.4,5.4],[13.7,4.8],[14.0,4.2],[14.3,5.1],[14.6,5.6],[14.9,4.5],[15.2,4.0],[15.5,5.3],[15.8,4.7],[16.1,5.7],[16.4,4.3],[16.7,4.9],[17.0,5.5],[17.3,4.1],[17.6,5.0],[17.9,4.6],[18.2,5.6],[18.5,3.9],[18.8,4.8],[19.1,5.3],[19.4,4.4],[19.7,5.0],[20.0,4.2],[20.3,5.5],[20.6,4.6],[20.9,5.1],[21.2,3.8],[21.5,4.9],[21.8,5.6],[22.1,4.3],[22.4,5.2],[22.7,4.7],[23.0,5.8],[23.3,4.0],[23.6,4.8],[23.9,5.4],[24.2,4.5],[24.5,5.0],[24.8,4.1],[25.1,5.5],[25.4,4.6],[25.7,5.2],[26.0,3.9],[26.3,4.9],[26.6,5.7],[26.9,4.4],[27.2,5.1],[27.5,4.7],[27.8,5.6],[28.1,4.2],[28.4,4.8],[28.7,5.3],[29.0,4.0],[29.3,5.0],[29.6,4.5],[29.9,5.4],[30.2,4.3],[30.5,4.9],[30.8,5.5],[31.1,3.9],[31.4,4.7],[31.7,5.2],[32.0,4.4],[32.3,5.0],[32.6,4.1],[32.9,5.3],[33.2,4.6],[33.5,5.1],[33.8,4.2],[34.1,4.8],[34.4,5.4],[34.7,4.5],[34.9,4.0],[35.0,4.9]];

const more500 = [[3.05,3.0],[3.35,3.4],[3.65,3.3],[3.95,3.8],[4.25,3.5],[4.55,3.9],[4.85,4.2],[5.15,3.8],[5.45,4.3],[5.75,4.0],[6.05,4.5],[6.35,4.1],[6.65,4.7],[6.95,4.3],[7.25,4.9],[7.55,4.4],[7.85,4.6],[8.15,5.1],[8.45,4.3],[8.75,4.8],[9.05,4.5],[9.35,5.2],[9.65,4.4],[9.95,5.0],[10.25,4.6],[10.55,5.5],[10.85,4.3],[11.15,4.9],[11.45,5.2],[11.75,4.5],[12.05,5.0],[12.35,4.1],[12.65,5.4],[12.95,4.6],[13.25,5.1],[13.55,4.4],[13.85,5.6],[14.15,4.7],[14.45,4.2],[14.75,5.3],[15.05,4.8],[15.35,4.4],[15.65,5.5],[15.95,4.2],[16.25,5.0],[16.55,4.6],[16.85,5.6],[17.15,4.5],[17.45,4.9],[17.75,4.1],[18.05,5.3],[18.35,4.7],[18.65,5.7],[18.95,4.3],[19.25,5.0],[19.55,4.6],[19.85,5.4],[20.15,4.0],[20.45,4.9],[20.75,5.3],[21.05,4.4],[21.35,5.6],[21.65,4.5],[21.95,5.0],[22.25,4.1],[22.55,5.4],[22.85,4.6],[23.15,5.2],[23.45,4.3],[23.75,5.7],[24.05,4.8],[24.35,4.2],[24.65,5.3],[24.95,4.6],[25.25,5.0],[25.55,4.0],[25.85,5.5],[26.15,4.7],[26.45,5.1],[26.75,4.3],[27.05,5.4],[27.35,4.5],[27.65,5.0],[27.95,4.1],[28.25,5.6],[28.55,4.6],[28.85,4.9],[29.15,5.3],[29.45,4.2],[29.75,4.8],[30.05,5.5],[30.35,4.5],[30.65,4.0],[30.95,5.2],[31.25,4.6],[31.55,5.4],[31.85,4.3],[32.15,4.9],[32.45,5.5],[32.75,4.4],[33.05,4.8],[33.35,5.2],[33.65,4.1],[33.95,5.0],[34.25,4.6],[34.55,5.3],[34.8,4.3]];

const FONT = '"Liberation Sans", Arial, sans-serif';
const chart = echarts.init(document.getElementById('chart'), null, { renderer: 'canvas' });

function scatter(name, data, symbol, size, color, z) {
  return {
    name: name, type: 'scatter', data: data, symbol: symbol, symbolSize: size,
    z: z, clip: false, animation: false, large: false,
    itemStyle: { color: 'rgba(0,0,0,0)', borderColor: color, borderWidth: 1.8 }
  };
}

const annoPos = [
  { x: 1251, y: 137, align: 'right' },
  { x: 1251, y: 497, align: 'right' },
  { x: 1251, y: 679, align: 'right' },
  { x: 433, y: 781, align: 'left' }
];

const graphics = annotations.map((t, i) => ({
  type: 'text', x: annoPos[i].x, y: annoPos[i].y, z: 100,
  style: {
    text: t, fill: '#000', fontSize: 31.5, fontFamily: FONT,
    align: annoPos[i].align, verticalAlign: 'middle', lineHeight: 32,
    rich: { sup: { fontSize: 19, fontFamily: FONT, fill: '#000', verticalAlign: 'top', lineHeight: 14 } }
  }
}));

const subRich = { fontSize: 22, fontFamily: FONT, fill: '#000', verticalAlign: 'bottom', lineHeight: 12 };
graphics.push({
  type: 'text', x: 173, y: 45, z: 100,
  style: {
    text: 'PST solution, F{sub|v}=0.0216%, W{sub|p}=16\u00B5s, V=16V, P=-2.2kPa',
    fill: '#000', fontSize: 35, fontFamily: FONT, align: 'left', verticalAlign: 'middle', lineHeight: 38,
    rich: { sub: subRich }
  }
});
graphics.push({
  type: 'text', x: 173, y: 95, z: 100,
  style: {
    text: 'Q{sub|D}= 0.4Lpm, Q{sub|L}= 5.6Lpm',
    fill: '#000', fontSize: 35, fontFamily: FONT, align: 'left', verticalAlign: 'middle', lineHeight: 38,
    rich: { sub: subRich }
  }
});

const option = {
  animation: false,
  backgroundColor: '#fff',
  grid: {
    left: 152, right: 32, top: 17, bottom: 134, containLabel: false, outerBoundsMode: 'none',
    show: true, borderColor: '#000', borderWidth: 1.5, backgroundColor: 'transparent'
  },
  xAxis: {
    type: 'value', min: xTicks[0], max: xTicks[xTicks.length - 1], interval: 20,
    name: 'Time, minutes', nameLocation: 'middle', nameGap: 95,
    nameTextStyle: { fontSize: 38, fontFamily: FONT, color: '#000' },
    axisLine: { show: true, onZero: false, lineStyle: { color: '#000', width: 1.5 } },
    axisTick: { show: true, inside: false, length: 10, lineStyle: { color: '#000', width: 1.5 } },
    axisLabel: { fontSize: 29, fontFamily: FONT, color: '#000', margin: 29 },
    splitLine: { show: false }
  },
  yAxis: {
    type: 'value', min: 0, max: 85, interval: 10,
    name: 'Concentration, #/cm{sup|3}', nameLocation: 'middle', nameGap: 92, nameRotate: 90,
    nameTextStyle: { fontSize: 36, fontFamily: FONT, color: '#000', rich: { sup: { fontSize: 21, fontFamily: FONT, color: '#000', verticalAlign: 'top', lineHeight: 14 } } },
    axisLine: { show: true, onZero: false, lineStyle: { color: '#000', width: 1.5 } },
    axisTick: { show: true, inside: false, length: 10, customValues: yTicks, lineStyle: { color: '#000', width: 1.5 } },
    axisLabel: { fontSize: 27, fontFamily: '"DejaVu Sans", sans-serif', color: '#000', margin: 26, customValues: yTicks },
    splitLine: { show: false }
  },
  series: [
    {
      type: 'line', data: [], silent: true, z: 1,
      markLine: {
        silent: true, symbol: ['none', 'none'], animation: false,
        label: { show: false },
        lineStyle: { color: '#888', type: [30, 13], width: 1.6 },
        data: refLines.map(v => ({ yAxis: v }))
      }
    },
    scatter(seriesNames[0], data7000.concat(more7000), 'circle', 20, '#ff0000', 2),
    scatter(seriesNames[1], data3000.concat(more3000), 'rect', 15, '#008000', 3),
    scatter(seriesNames[2], data1000.concat(more1000), 'triangle', 15, '#0000ff', 4),
    scatter(seriesNames[3], data500.concat(more500), 'diamond', 17, '#000000', 5)
  ],
  graphic: graphics
};
chart.setOption(option);
</script>
</body>
</html>
